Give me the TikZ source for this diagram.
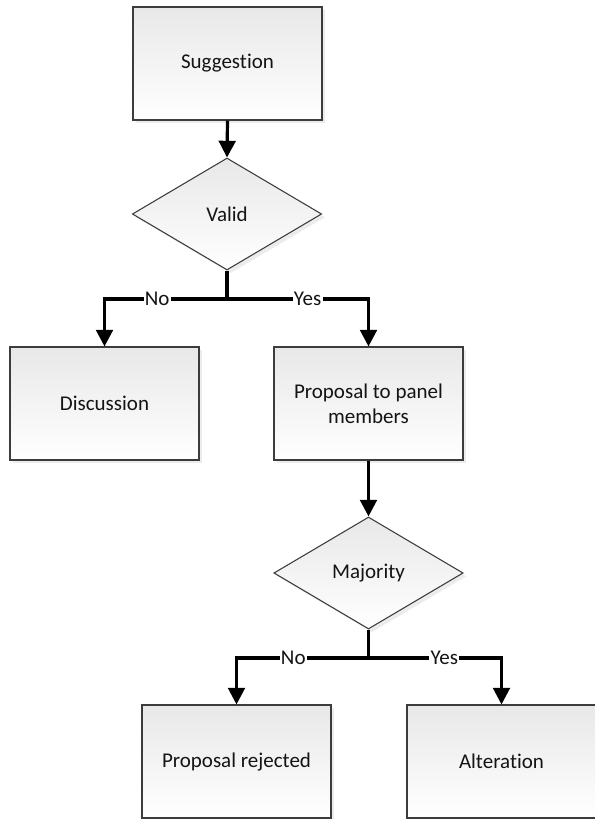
\documentclass[tikz,border=0pt]{standalone}
\usepackage{fontspec}
\setmainfont{Carlito}[Ligatures={NoCommon}]
\usetikzlibrary{shapes.geometric,arrows.meta,shadows}

\definecolor{boxtop}{RGB}{232,232,232}
\definecolor{boxline}{RGB}{60,60,60}
\definecolor{ink}{RGB}{20,20,20}

\tikzset{
  flowbox/.style={draw=boxline, line width=0.8pt, rectangle,
    top color=boxtop, bottom color=white,
    minimum width=141.75pt, minimum height=84.75pt,
    align=center, text=ink, font=\fontsize{15.75}{19}\selectfont,
    drop shadow={shadow xshift=2.5pt, shadow yshift=-2.5pt, opacity=0.15}},
  decision/.style={draw=boxline, line width=0.8pt, diamond,
    top color=boxtop, bottom color=white, inner sep=0pt,
    minimum width=142pt, minimum height=84pt,
    text=ink, font=\fontsize{15.75}{19}\selectfont,
    drop shadow={shadow xshift=2.5pt, shadow yshift=-2.5pt, opacity=0.15}},
  link/.style={line width=2.4pt, black},
  arrowlink/.style={link, -{Triangle[width=12.5pt,length=12.5pt]}},
  branchlbl/.style={fill=white, inner sep=1pt, text=ink,
    font=\fontsize{15.75}{19}\selectfont, pos=0.285}
}

\begin{document}
\begin{tikzpicture}[x=0.75pt, y=-0.75pt]
  \useasboundingbox (0,0) rectangle (594,819);

  % boxes and decisions
  \node[flowbox]  (sugg)  at (227.5, 63.5)  {Suggestion};
  \node[decision] (valid) at (227, 214)     {Valid};
  \node[flowbox]  (disc)  at (104.5, 403.5) {Discussion};
  \node[flowbox]  (prop)  at (368.5, 403.5) {Proposal to panel\\members};
  \node[decision] (major) at (368.5, 573)   {Majority};
  \node[flowbox]  (rej)   at (236.5, 761.5) {Proposal rejected};
  \node[flowbox]  (alt)   at (501.5, 761.5) {Alteration};

  % branch points below the decisions
  \coordinate (j1) at (227, 299);
  \coordinate (j2) at (368.5, 658);

  % connectors
  \draw[arrowlink] (sugg.south) -- (valid.north);
  \draw[link] (valid.south) -- (j1);
  \draw[arrowlink] (j1) -| node[branchlbl] {No} (disc.north);
  \draw[arrowlink] (j1) -| node[branchlbl] {Yes} (prop.north);

  \draw[arrowlink] (prop.south) -- (major.north);
  \draw[link] (major.south) -- (j2);
  \draw[arrowlink] (j2) -| node[branchlbl] {No} (rej.north);
  \draw[arrowlink] (j2) -| node[branchlbl] {Yes} (alt.north);
\end{tikzpicture}
\end{document}
